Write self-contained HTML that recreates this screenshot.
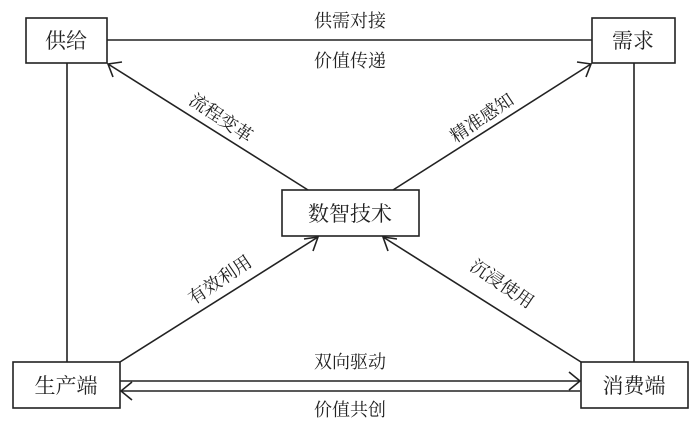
<!DOCTYPE html>
<html><head><meta charset="utf-8"><style>
html,body{margin:0;padding:0;background:#fff}
svg text{font-family:"Liberation Serif","Noto Serif CJK SC",serif;fill:#222}
</style></head><body>
<svg width="700" height="428" viewBox="0 0 700 428" xmlns="http://www.w3.org/2000/svg">
<g stroke="#222" stroke-width="1.6" fill="none">
<rect x="26" y="18" width="81" height="45"/>
<rect x="592" y="18" width="83" height="45"/>
<rect x="282" y="190" width="137" height="46"/>
<rect x="13" y="362" width="107" height="46"/>
<rect x="581" y="362" width="107" height="46"/>
<line x1="107" y1="40" x2="592" y2="40"/>
<line x1="67" y1="63" x2="67" y2="362"/>
<line x1="634" y1="63" x2="634" y2="362"/>
<line x1="308" y1="190" x2="108" y2="64"/>
<polyline points="122,62 108,64 113,77"/>
<line x1="393" y1="190" x2="591" y2="64"/>
<polyline points="577,62 591,64 586,77"/>
<line x1="120" y1="362" x2="318" y2="237"/>
<polyline points="304,239 318,237 313,251"/>
<line x1="581" y1="362" x2="383" y2="237"/>
<polyline points="397,239 383,237 388,251"/>
<line x1="120" y1="381" x2="580" y2="381"/>
<polyline points="569,372 580,381 569,390"/>
<line x1="580" y1="391" x2="121" y2="391"/>
<polyline points="132,382 121,391 132,400"/>
</g>
<g font-size="21" text-anchor="middle">
<text x="66" y="48">供给</text>
<text x="633" y="48">需求</text>
<text x="350" y="221">数智技术</text>
<text x="66" y="393">生产端</text>
<text x="634" y="393">消费端</text>
</g>
<g font-size="18" text-anchor="middle">
<text x="350" y="27">供需对接</text>
<text x="350" y="67">价值传递</text>
<text x="350" y="368">双向驱动</text>
<text x="350" y="416">价值共创</text>
<text transform="translate(221,118) rotate(34)" y="6">流程变革</text>
<text transform="translate(482,118) rotate(-34)" y="6">精准感知</text>
<text transform="translate(220,280) rotate(-34)" y="6">有效利用</text>
<text transform="translate(502,284) rotate(34)" y="6">沉浸使用</text>
</g>
</svg>
</body></html>
